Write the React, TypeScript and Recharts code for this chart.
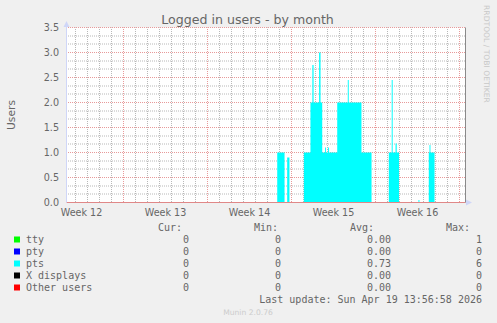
import React from "react";
import { AreaChart, Area, XAxis, YAxis, CartesianGrid, ReferenceLine } from "recharts";

// time in days, day 0 = start of Week 13
const ptsTime = [
  -4.75, 12.81, 13.42, 13.64, 13.83, 15.03, 15.58, 15.74, 15.84, 16.3, 16.42, 16.56, 16.8, 16.88,
  17.05, 17.13, 17.81, 18.69, 18.77, 19.83, 20.67, 22.11, 22.35, 22.43, 22.67, 22.77, 22.96,
  24.58, 24.66, 25.44, 25.5, 25.58, 25.92, 28.5,
];
const ptsValue = [
  0, 1.0, 0, 0.9, 0, 1.0, 2.0, 2.75, 2.0, 3.0, 2.0, 1.0, 1.1, 1.0,
  1.1, 1.0, 2.0, 2.45, 2.0, 1.0, 0, 1.0, 2.45, 1.0, 1.18, 1.0, 0,
  0.05, 0, 1.0, 1.15, 1.0, 0, 0,
];

const weekTicks = [-3.5, 3.5, 10.5, 17.5, 24.5];
const weekLabels = ["Week 12", "Week 13", "Week 14", "Week 15", "Week 16"];
const yTicks = [0, 0.5, 1, 1.5, 2, 2.5, 3, 3.5];
const weekLines = [0, 7, 14, 21, 28];
const dayLines: number[] = [];
for (let d = -4; d <= 28; d++) if (d % 7 !== 0) dayLines.push(d);
const yMajor = [0.5, 1, 1.5, 2, 2.5, 3, 3.5];
const yMinor = [0.17, 0.33, 0.67, 0.83, 1.17, 1.33, 1.67, 1.83, 2.17, 2.33, 2.67, 2.83, 3.17, 3.33];

const legendNames = ["tty", "pty", "pts", "X displays", "Other users"];
const legendColors = ["#00ff00", "#0000ff", "#00ffff", "#000000", "#ff0000"];
const curValues = ["0", "0", "0", "0", "0"];
const minValues = ["0", "0", "0", "0", "0"];
const avgValues = ["0.00", "0.00", "0.73", "0.00", "0.00"];
const maxValues = ["1", "0", "6", "0", "0"];

const data = ptsTime.map((t, i) => ({ t, pts: ptsValue[i] }));

const FONT = "DejaVu Sans, Verdana, sans-serif";
const MONO = "DejaVu Sans Mono, monospace";
const TXT = "#666666";
const MINOR = "#b8b8b8";
const MAJOR = "#e89a9a";

export default function App() {
  return (
    <div style={{ position: "absolute", left: 0, top: 0, width: 497, height: 323, background: "#f0f0f0" }}>
      <AreaChart
        width={497}
        height={323}
        data={data}
        margin={{ top: 27.5, right: 31.5, bottom: 90.5, left: 0 }}
      >
        <CartesianGrid
          fill="#ffffff"
          stroke={MINOR}
          strokeDasharray="1 1"
          strokeDashoffset={0.5}
          horizontalValues={yMinor}
          verticalValues={dayLines}
        />
        <CartesianGrid
          fill="none"
          stroke={MAJOR}
          strokeDasharray="1 1"
          strokeDashoffset={0.5}
          horizontalValues={yMajor}
          verticalValues={weekLines}
        />
        <XAxis
          dataKey="t"
          type="number"
          domain={[-4.75, 28.5]}
          allowDataOverflow
          ticks={weekTicks}
          tickFormatter={(v: number) => weekLabels[weekTicks.indexOf(v)] ?? ""}
          tick={{ fill: TXT, fontSize: 9.6, fontFamily: FONT }}
          tickLine={false}
          axisLine={false}
          tickSize={5}
          tickMargin={2}
          height={30}
          interval={0}
        />
        <YAxis
          type="number"
          domain={[0, 3.5]}
          ticks={yTicks}
          tickFormatter={(v: number) => v.toFixed(1)}
          tick={{ fill: TXT, fontSize: 9.6, fontFamily: FONT }}
          tickLine={false}
          axisLine={{ stroke: "#cfd6f8" }}
          tickSize={5}
          tickMargin={2.5}
          width={66.5}
          interval={0}
        />
        <Area
          type="stepAfter"
          dataKey="pts"
          stroke="none"
          fill="#00ffff"
          fillOpacity={1}
          isAnimationActive={false}
          dot={false}
          activeDot={false}
        />
        <ReferenceLine y={0} stroke="#e08888" />
        <ReferenceLine x={28.5} stroke="#8a8a8a" />
      </AreaChart>
      <svg
        width={497}
        height={323}
        style={{ position: "absolute", left: 0, top: 0, pointerEvents: "none" }}
      >
        <polygon points="63.5,27 69.5,27 66.5,21" fill="#cfd6f8" />
        <polygon points="466,199.5 466,205.5 472,202.5" fill="#cfd6f8" />
        <line x1={66.5} y1={27} x2={66.5} y2={28} stroke="#cfd6f8" />
        <text x={247.5} y={24} textAnchor="middle" fontFamily={FONT} fontSize={12.6} fill={TXT}>
          Logged in users - by month
        </text>
        <text
          x={15}
          y={115}
          textAnchor="middle"
          fontFamily={FONT}
          fontSize={10.7}
          fill={TXT}
          transform="rotate(-90 15 115)"
        >
          Users
        </text>
        <text
          x={484}
          y={54}
          textAnchor="middle"
          fontFamily={FONT}
          fontSize={7.6}
          fill="#c8c8c8"
          transform="rotate(90 484 54)"
        >
          RRDTOOL / TOBI OETIKER
        </text>
        <g fontFamily={MONO} fontSize={10} fill={TXT}>
          <text x={182} y={231} textAnchor="end">Cur:</text>
          <text x={278} y={231} textAnchor="end">Min:</text>
          <text x={374} y={231} textAnchor="end">Avg:</text>
          <text x={470} y={231} textAnchor="end">Max:</text>
          {legendNames.map((name, i) => {
            const base = 243 + i * 12;
            return (
              <g key={name}>
                <rect x={14} y={base - 6.5} width={6} height={6} fill={legendColors[i]} />
                <text x={26} y={base}>{name}</text>
                <text x={189} y={base} textAnchor="end">{curValues[i]}</text>
                <text x={281} y={base} textAnchor="end">{minValues[i]}</text>
                <text x={391} y={base} textAnchor="end">{avgValues[i]}</text>
                <text x={482} y={base} textAnchor="end">{maxValues[i]}</text>
              </g>
            );
          })}
          <text x={482} y={302.5} textAnchor="end">Last update: Sun Apr 19 13:56:58 2026</text>
        </g>
        <text x={248} y={315} textAnchor="middle" fontFamily={FONT} fontSize={7.6} fill="#cccccc">
          Munin 2.0.76
        </text>
      </svg>
    </div>
  );
}
